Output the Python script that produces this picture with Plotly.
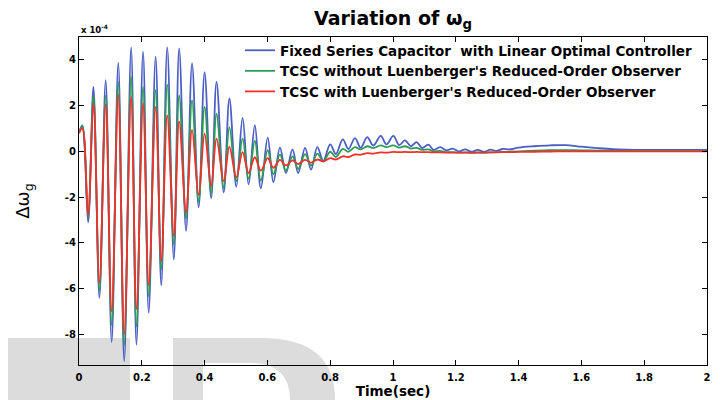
import plotly.graph_objects as go

# time (s) of read-off points (extrema of the oscillation, then the slow tail)
time_s = [0.0, 0.0105, 0.029, 0.046, 0.065, 0.085, 0.104, 0.125, 0.144, 0.166,
          0.183, 0.204, 0.222, 0.244, 0.262, 0.281, 0.302, 0.319, 0.341, 0.36,
          0.381, 0.40, 0.421, 0.438, 0.461, 0.479, 0.501, 0.521, 0.54, 0.56,
          0.579, 0.601, 0.619, 0.64, 0.659, 0.68, 0.698, 0.72, 0.739, 0.759,
          0.778, 0.80, 0.818, 0.84, 0.858, 0.879, 0.897, 0.918, 0.937, 0.961,
          0.979, 1.001, 1.02, 1.038, 1.057, 1.075, 1.093, 1.112, 1.13, 1.15,
          1.17, 1.19, 1.21, 1.23, 1.25, 1.27, 1.29, 1.31, 1.33, 1.35,
          1.37, 1.40, 1.45, 1.50, 1.55, 1.60, 1.65, 1.70, 1.75, 1.80,
          1.90, 2.0]

# values in units of 1e-4
fixed_cap = [0.8, 1.13, -3.11, 2.82, -6.41, 3.11, -8.35, 3.88, -9.19, 4.54,
             -8.46, 4.36, -7.07, 4.14, -5.87, 4.55, -4.73, 4.5, -3.48, 3.85,
             -2.45, 3.45, -2.05, 3.04, -1.8, 2.31, -1.55, 1.46, -1.45, 1.14,
             -1.62, 0.6, -1.35, 0.16, -0.95, 0.08, -0.95, 0.15, -0.8, 0.18,
             -0.42, 0.3, -0.12, 0.52, 0.1, 0.58, 0.15, 0.62, 0.25, 0.67,
             0.3, 0.67, 0.27, 0.48, 0.22, 0.40, 0.14, 0.29, 0.06, 0.18,
             0.04, 0.12, 0.0, 0.08, -0.02, 0.06, -0.02, 0.07, 0.02, 0.1,
             0.08, 0.16, 0.22, 0.26, 0.27, 0.2, 0.14, 0.09, 0.07, 0.06,
             0.06, 0.06]

tcsc_no_obs = [0.8, 1.1, -2.9, 2.45, -6.1, 2.45, -7.6, 3.04, -8.47, 3.26,
               -7.66, 2.82, -6.34, 2.67, -5.16, 2.92, -4.07, 2.45, -2.94, 2.23,
               -2.2, 1.94, -1.85, 1.65, -1.6, 1.06, -1.3, 0.55, -1.2, 0.45,
               -1.28, 0.05, -1.0, -0.15, -0.85, -0.22, -0.77, -0.12, -0.62, -0.1,
               -0.45, -0.02, -0.25, 0.1, -0.02, 0.18, 0.08, 0.22, 0.14, 0.26,
               0.18, 0.26, 0.16, 0.22, 0.12, 0.15, 0.06, 0.08, 0.0, 0.02,
               -0.04, -0.04, -0.06, -0.05, -0.07, -0.06, -0.07, -0.05, -0.05, -0.03,
               -0.02, 0.0, 0.03, 0.05, 0.05, 0.04, 0.03, 0.02, 0.02, 0.02,
               0.02, 0.02]

tcsc_obs = [0.8, 1.0, -2.8, 2.09, -5.75, 2.05, -7.0, 2.48, -8.0, 2.38,
            -6.9, 2.09, -5.85, 1.94, -4.8, 1.57, -3.7, 1.31, -2.67, 0.94,
            -1.9, 0.77, -1.5, 0.55, -1.3, 0.2, -1.14, -0.04, -0.95, -0.26,
            -0.85, -0.3, -0.72, -0.38, -0.62, -0.4, -0.56, -0.38, -0.5, -0.36,
            -0.44, -0.3, -0.36, -0.22, -0.25, -0.14, -0.15, -0.08, -0.1, -0.05,
            -0.06, -0.03, -0.04, -0.03, -0.04, -0.03, -0.04, -0.04, -0.05, -0.05,
            -0.06, -0.06, -0.06, -0.06, -0.06, -0.05, -0.05, -0.05, -0.04, -0.04,
            -0.04, -0.03, -0.02, -0.01, 0.0, 0.0, 0.0, 0.0, 0.0, 0.0,
            0.0, 0.0]

series_names = ["Fixed Series Capacitor  with Linear Optimal Controller",
                "TCSC without Luenberger's Reduced-Order Observer",
                "TCSC with Luenberger's Reduced-Order Observer"]
series_colors = ["#4a5ec4", "#2f9a55", "#f2302c"]
x_ticks = [0, 0.2, 0.4, 0.6, 0.8, 1, 1.2, 1.4, 1.6, 1.8, 2]
y_ticks = [-8, -6, -4, -2, 0, 2, 4]

FONT = "DejaVu Sans, Liberation Sans, Arial, sans-serif"

fig = go.Figure()
for name, vals, col in zip(series_names, [fixed_cap, tcsc_no_obs, tcsc_obs], series_colors):
    fig.add_trace(go.Scatter(x=time_s, y=vals, mode="lines", name=name,
                             line=dict(color=col, width=1.8, shape="spline", smoothing=1.0)))

# page has an 8px body margin: figure is 712x392 placed at (8, 8)
OFF = 8
W, H = 712, 392
L, R, T, B = 79 - OFF, 720 - 707, 37 - OFF, 400 - 365
PW, PH = W - L - R, H - T - B


def px(x):  # page pixel x -> paper coordinate
    return (x - OFF - L) / PW


def py(y):  # page pixel y -> paper coordinate
    return (H - B - (y - OFF)) / PH


GRAY = "#dcdcdc"
fig.update_layout(
    width=W, height=H,
    margin=dict(l=L, r=R, t=T, b=B, autoexpand=False),
    paper_bgcolor="white", plot_bgcolor="rgba(0,0,0,0)",
    font=dict(family=FONT, color="black"),
    title=dict(text="<b>Variation of ω<sub>g</sub></b>", x=0.5, xanchor="center",
               xref="paper", y=1 - 10 / H, yanchor="middle", font=dict(size=19)),
    showlegend=True,
    legend=dict(x=px(240), y=py(35), xanchor="left", yanchor="top",
                bgcolor="rgba(255,255,255,0)", borderwidth=0,
                font=dict(size=13.5, weight="bold"), tracegroupgap=0,
                itemwidth=30),
    shapes=[
        dict(type="rect", xref="paper", yref="paper", layer="below",
             x0=px(8), x1=px(130), y0=py(400), y1=py(338),
             line=dict(width=0), fillcolor=GRAY),
        dict(type="path", xref="paper", yref="paper", layer="below",
             path="M {a},{b} L {c},{b} Q {d},{b} {d},{e} L {a},{e} Z".format(
                 a=px(173), b=py(338), c=px(262), d=px(335), e=py(400)),
             line=dict(width=0), fillcolor=GRAY),
        dict(type="path", xref="paper", yref="paper", layer="below",
             path="M {a},{b} L {c},{b} Q {d},{b} {d},{e} L {a},{e} Z".format(
                 a=px(203), b=py(363), c=px(250), d=px(290), e=py(400)),
             line=dict(width=0), fillcolor="white"),
    ],
    annotations=[
        dict(text="<b>x 10<sup>-4</sup></b>", xref="paper", yref="paper", x=0.0, y=1.0,
             xanchor="left", yanchor="bottom", showarrow=False, font=dict(size=8.5)),
    ],
)
fig.update_xaxes(range=[0, 2], tickvals=x_ticks, ticktext=[str(v) for v in x_ticks],
                 showline=True, linecolor="black", linewidth=1.2, mirror="ticks",
                 ticks="inside", ticklen=5, tickcolor="black", showgrid=False, zeroline=False,
                 automargin=False, tickfont=dict(size=10, weight="bold"), ticklabelstandoff=3,
                 title=dict(text="<b>Time(sec)</b>", font=dict(size=13.5), standoff=2))
fig.update_yaxes(range=[-9.35, 5], tickvals=y_ticks, ticktext=[str(v) for v in y_ticks],
                 showline=True, linecolor="black", linewidth=1.2, mirror="ticks",
                 ticks="inside", ticklen=5, tickcolor="black", showgrid=False, zeroline=False,
                 automargin=False, tickfont=dict(size=10, weight="bold"),
                 title=dict(text="Δω<sub>g</sub>", font=dict(size=18), standoff=30))

fig.write_html("out.html")
